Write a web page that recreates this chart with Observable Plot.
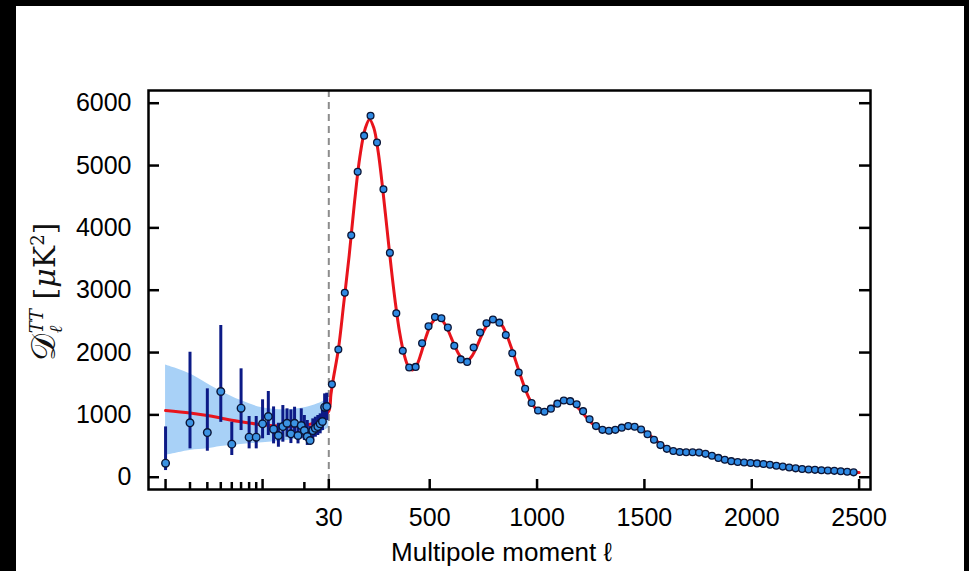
<!DOCTYPE html>
<html><head><meta charset="utf-8">
<script src="https://cdn.jsdelivr.net/npm/d3@7"></script>
<script src="https://cdn.jsdelivr.net/npm/@observablehq/plot@0.6"></script>
<style>
html,body{margin:0;padding:0;background:#fff;}
#wrap{position:relative;width:969px;height:571px;overflow:hidden;background:#fff;}
#chart{position:absolute;left:0;top:0;}
.bar{position:absolute;background:#000;}
#ylab{position:absolute;left:46px;top:292px;transform:translate(-50%,-50%) rotate(-90deg);white-space:nowrap;
  font-family:'DejaVu Serif','Liberation Serif',serif;font-size:30px;color:#111;line-height:1;}
#ylab .cal{font-size:34px;}
#ylab .ss{display:inline-block;vertical-align:middle;font-size:18px;line-height:1.05;font-style:italic;text-align:left;margin-left:1px;}
#ylab sup{font-size:18px;}
</style></head><body>
<div id="wrap">
  <div id="chart"></div>
  <div class="bar" style="left:0;top:0;width:969px;height:6px"></div>
  <div class="bar" style="left:0;top:0;width:16px;height:571px"></div>
  <div class="bar" style="left:964px;top:0;width:5px;height:571px"></div>
  <div id="ylab"><span class="cal">𝒟</span><span class="ss">TT<br>ℓ</span> [<i>μ</i>K<sup>2</sup>]</div>
</div>
<script>
// ---- data ----
const lowEll = [2,3,4,5,6,7,8,9,10,11,12,13,14,15,16,17,18,19,20,21,22,23,24,25,26,27,28,29];
const lowD   = [225,873,717,1375,530,1107,642,642,857,974,770,669,813,866,696,866,669,829,749,653,589,749,786,813,857,894,1123,1134];
const lowErrHi = [807,2005,1418,2434,882,1739,974,974,1242,1375,1128,866,1150,1097,1080,1123,866,1097,990,910,813,936,963,990,1017,1070,1337,1348];
const lowErrLo = [107,455,417,880,348,749,455,455,616,669,535,481,562,642,540,669,535,616,590,510,535,589,642,669,696,749,910,910];

const hiEll = [44.5,74.5,104.5,134.5,164.5,194.5,224.5,254.5,284.5,314.5,344.5,374.5,404.5,434.5,464.5,494.5,524.5,554.5,584.5,614.5,
  644.5,674.5,704.5,734.5,764.5,794.5,824.5,854.5,884.5,914.5,944.5,974.5,1004.5,1034.5,1064.5,1094.5,1124.5,1154.5,1184.5,1214.5,
  1244.5,1274.5,1304.5,1334.5,1364.5,1394.5,1424.5,1454.5,1484.5,1514.5,1544.5,1574.5,1604.5,1634.5,1664.5,1694.5,1724.5,1754.5,1784.5,1814.5,
  1844.5,1874.5,1904.5,1934.5,1964.5,1994.5,2024.5,2054.5,2084.5,2114.5,2144.5,2174.5,2204.5,2234.5,2264.5,2294.5,2324.5,2354.5,2384.5,2414.5,
  2444.5,2474.5];
const hiD = [1490,2050,2960,3880,4900,5480,5800,5370,4620,3600,2630,2030,1760,1770,2150,2420,2570,2550,2400,2110,
  1890,1850,2080,2320,2470,2530,2480,2280,1990,1680,1420,1190,1070,1050,1100,1180,1230,1220,1170,1060,
  930,820,760,745,760,795,820,810,765,690,600,515,455,420,405,400,400,395,375,345,
  310,280,258,243,235,228,222,212,200,185,170,155,142,132,124,118,112,107,102,96,
  88,78];

const modelEll = [2,3,4,5,6,8,10,13,16,20,24,27,30,40,50,75,100,125,150,175,200,220,240,260,280,300,320,340,360,380,400,420,440,460,480,500,
  520,540,560,580,600,620,640,660,680,700,720,740,760,780,800,820,840,860,880,900,920,940,960,980,1000,1020,1040,1060,1080,1100,1120,1140,
  1160,1180,1200,1220,1240,1260,1280,1300,1330,1360,1390,1420,1450,1480,1510,1540,1570,1600,1630,1660,1700,1740,1780,1820,1860,1900,1950,
  2000,2050,2100,2150,2200,2250,2300,2350,2400,2450,2500];
const modelD = [1070,1030,990,950,915,870,840,820,815,830,880,960,1060,1330,1560,2060,2800,3560,4420,5150,5600,5740,5600,5220,4660,4020,3380,2800,2320,1980,1780,1720,1800,1990,2220,2410,
  2520,2560,2510,2400,2240,2080,1950,1880,1880,1960,2100,2260,2400,2490,2520,2500,2420,2270,2080,1870,1660,1460,1290,1160,1080,1050,1060,1100,1150,1200,1225,1225,
  1200,1150,1080,1000,920,850,800,760,740,755,790,815,805,770,710,630,550,480,430,405,395,395,380,345,300,265,240,
  225,215,200,175,150,130,115,105,95,85,75];

const bandEll = [2,3,4,5,7,10,15,20,25,30];
const bandLo  = [350,430,455,492,525,551,589,632,696,793];
const bandHi  = [1800,1659,1498,1380,1230,1113,1081,1113,1177,1258];

const yTicks = [0,1000,2000,3000,4000,5000,6000];
const xMajorTicks = [2,10,30,500,1000,1500,2000,2500];
const xMinorTicks = [3,4,5,6,7,8,9,20];
const xTickLabels = [30,500,1000,1500,2000,2500];
const xTitle = "Multipole moment ℓ";

// ---- tables ----
const low = lowEll.map((l,i)=>({l, d: lowD[i], lo: lowErrLo[i], hi: lowErrHi[i]}));
const hi = hiEll.map((l,i)=>({l, d: hiD[i]}));
const model = modelEll.map((l,i)=>({l, d: modelD[i]}));
const band = bandEll.map((l,i)=>({l, lo: bandLo[i], hi: bandHi[i]}));

// hybrid axis: logarithmic below ℓ=30, linear above
const u = l => l >= 30 ? (l - 30) * 0.2147 : 138.8 * Math.log10(l / 30);
const ux = d => u(d.l);

const W = 969, H = 571, mL = 148, mR = 99, mT = 90, mB = 82;
const fw = W - mL - mR, fh = H - mT - mB;

const chart = Plot.plot({
  width: W, height: H,
  marginLeft: mL, marginRight: mR, marginTop: mT, marginBottom: mB,
  style: {background: "transparent", fontFamily: "'Liberation Sans', Arial, sans-serif", overflow: "visible", color: "#000"},
  x: {type: "linear", domain: [-180.3, 541.7], axis: null},
  y: {type: "linear", domain: [-197, 6204], axis: null},
  marks: [
    Plot.areaY(band, {x: ux, y1: "lo", y2: "hi", fill: "#a8d1f7", curve: "catmull-rom"}),
    Plot.ruleX([30], {x: d => u(d), stroke: "#8c8c8c", strokeWidth: 2, strokeDasharray: "7,5"}),
    Plot.line(model, {x: ux, y: "d", stroke: "#e8141c", strokeWidth: 3, curve: "catmull-rom"}),
    Plot.ruleX(low, {x: ux, y1: "lo", y2: "hi", stroke: "#0c1a86", strokeWidth: 3}),
    Plot.dot(low, {x: ux, y: "d", r: 3.8, fill: "#3b93e3", stroke: "#0a1436", strokeWidth: 1.4}),
    Plot.dot(hi, {x: ux, y: "d", r: 3.4, fill: "#2f8ae3", stroke: "#0a1436", strokeWidth: 1.3}),
    Plot.frame({stroke: "#000", strokeWidth: 2.5}),
    Plot.ruleX(xMajorTicks, {x: d => u(d), insetTop: fh - 10, stroke: "#000", strokeWidth: 2.5}),
    Plot.ruleX(xMinorTicks, {x: d => u(d), insetTop: fh - 7, stroke: "#000", strokeWidth: 2.5}),
    Plot.ruleY(yTicks, {y: d => d, insetRight: fw - 11, stroke: "#000", strokeWidth: 2.5}),
    Plot.ruleY(yTicks, {y: d => d, insetLeft: fw - 11, stroke: "#000", strokeWidth: 2.5}),
    Plot.text(yTicks, {y: d => d, text: d => String(d), frameAnchor: "left", textAnchor: "end", dx: -17, fontSize: 25, fill: "#000"}),
    Plot.text(xTickLabels, {x: d => u(d), text: d => String(d), frameAnchor: "bottom", lineAnchor: "middle", dy: 28, fontSize: 25, fill: "#000"}),
    Plot.text([xTitle], {text: d => d, frameAnchor: "bottom", lineAnchor: "middle", dx: -8, dy: 63, fontSize: 26, fill: "#000"})
  ]
});
document.getElementById("chart").appendChild(chart);
</script>
</body></html>
